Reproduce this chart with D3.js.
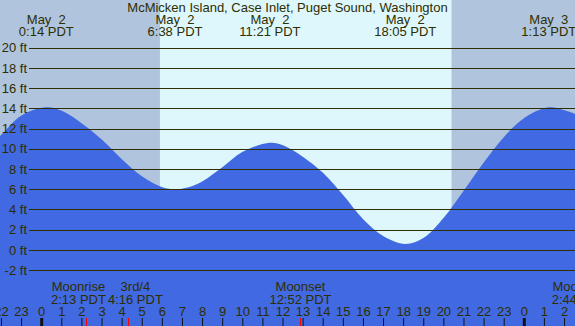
<!DOCTYPE html>
<html>
<head>
    <meta charset="utf-8">
    <title>McMicken Island tides</title>
    <script src="https://cdn.jsdelivr.net/npm/d3@7"></script>
    <style>
        body { margin: 0; }
        svg { display: block; }
        text { font-family: "Liberation Sans", Arial, sans-serif; font-size: 13px; fill: #2e2e00; white-space: pre; }
    </style>
</head>
<body>
<svg id="tideSvg"></svg>
<script>
    // hours from midnight May 2 (PDT), heights in feet
    let tideHours = [-3, -2, -1, 0.23, 1, 2, 3, 4, 5, 6, 6.63, 7.3, 8, 9, 10, 11.35, 12, 13, 14, 15, 16, 17, 18.08, 19, 20, 21, 22, 23, 24, 25.22, 26, 27];
    let tideFeet = [9.3, 11.4, 13.3, 14.1, 13.75, 12.5, 10.9, 8.95, 7.25, 6.2, 6.0, 6.2, 6.8, 8.2, 9.7, 10.6, 10.35, 9.2, 7.6, 5.4, 3.0, 1.35, 0.6, 1.2, 3.2, 5.9, 8.7, 11.2, 13.05, 14.1, 13.8, 13.1];

    // high / low tide events
    let eventHours = [0.23, 6.63, 11.35, 18.08, 25.22];
    let eventDates = ["May  2", "May  2", "May  2", "May  2", "May  3"];
    let eventTimes = ["0:14 PDT", "6:38 PDT", "11:21 PDT", "18:05 PDT", "1:13 PDT"];

    // moon events
    let moonHours = [2.22, 4.27, 12.87, 26.73];
    let moonNames = ["Moonrise", "3rd/4", "Moonset", "Moonrise"];
    let moonTimes = ["2:13 PDT", "4:16 PDT", "12:52 PDT", "2:44 PDT"];

    // sun: sunrise and sunset of May 2
    let sunrise = 5.88, sunset = 20.38;

    let yTicks = [-2, 0, 2, 4, 6, 8, 10, 12, 14, 16, 18, 20];
    let hourTicks = d3.range(-2, 27);
    let title = "McMicken Island, Case Inlet, Puget Sound, Washington";

    let SVGWIDTH = 575, SVGHEIGHT = 326;
    let nightColor = "#b0c4de", dayColor = "#ddf7fd", waterColor = "#4169e1", inkColor = "#2e2e00";

    let xScale = d3.scaleLinear().domain([0, 24]).range([41.7, 524.3]);
    let yScale = d3.scaleLinear().domain([-2, 20]).range([270.2, 47.6]);

    let svg = d3.select("#tideSvg").attr("width", SVGWIDTH).attr("height", SVGHEIGHT);

    // night / day background
    svg.append("rect").attr("x", 0).attr("y", 0)
        .attr("width", SVGWIDTH).attr("height", SVGHEIGHT).attr("fill", nightColor);
    svg.append("rect").attr("x", xScale(sunrise)).attr("y", 0)
        .attr("width", xScale(sunset) - xScale(sunrise)).attr("height", SVGHEIGHT)
        .attr("fill", dayColor);

    // water
    let tideData = tideHours.map((h, i) => ({ h: h, ft: tideFeet[i] }));
    let water = d3.area()
        .x(d => xScale(d.h))
        .y0(SVGHEIGHT)
        .y1(d => yScale(d.ft))
        .curve(d3.curveCatmullRom.alpha(0.5));
    svg.append("path").datum(tideData)
        .attr("d", water)
        .attr("fill", waterColor);

    // grid lines + left labels
    svg.append("g").selectAll("line")
        .data(yTicks).enter().append("line")
        .attr("x1", 29).attr("x2", SVGWIDTH)
        .attr("y1", d => Math.round(yScale(d)) + 0.5)
        .attr("y2", d => Math.round(yScale(d)) + 0.5)
        .attr("stroke", inkColor).attr("stroke-width", 1.2);
    svg.append("g").selectAll("text")
        .data(yTicks).enter().append("text")
        .attr("x", 27).attr("y", d => yScale(d))
        .attr("dy", "0.36em")
        .attr("text-anchor", "end")
        .text(d => d + " ft");

    // title
    svg.append("text").attr("x", SVGWIDTH / 2).attr("y", 12)
        .attr("text-anchor", "middle").text(title);

    // tide event labels
    let ev = svg.append("g").selectAll("text")
        .data(eventHours).enter().append("text")
        .attr("text-anchor", "middle")
        .attr("x", d => xScale(d));
    ev.append("tspan").attr("x", d => xScale(d)).attr("y", 23.5).text((d, i) => eventDates[i]);
    ev.append("tspan").attr("x", d => xScale(d)).attr("y", 35.5).text((d, i) => eventTimes[i]);

    // hour ticks along the bottom
    let axis = svg.append("g");
    axis.selectAll("line")
        .data(hourTicks).enter().append("line")
        .attr("x1", d => xScale(d)).attr("x2", d => xScale(d))
        .attr("y1", 318).attr("y2", SVGHEIGHT)
        .attr("stroke", "#111")
        .attr("stroke-width", d => (d % 24 == 0) ? 3 : 1);
    axis.selectAll("text")
        .data(hourTicks).enter().append("text")
        .attr("x", d => xScale(d)).attr("y", 316)
        .attr("text-anchor", "middle")
        .text(d => (d + 24) % 24);

    // moon marks (red ticks)
    svg.append("g").selectAll("line")
        .data(moonHours).enter().append("line")
        .attr("x1", d => Math.round(xScale(d)) + 0.5).attr("x2", d => Math.round(xScale(d)) + 0.5)
        .attr("y1", 318).attr("y2", SVGHEIGHT)
        .attr("stroke", "red").attr("stroke-width", 1);

    // moon labels, pushed apart when they overlap
    let moon = svg.append("g").selectAll("g")
        .data(moonHours).enter().append("g");
    moon.append("text").attr("y", 291).attr("text-anchor", "middle").text((d, i) => moonNames[i]);
    moon.append("text").attr("y", 304).attr("text-anchor", "middle").text((d, i) => moonTimes[i]);
    let centers = moonHours.map(d => xScale(d));
    let widths = [];
    moon.each(function () {
        let w = 0;
        d3.select(this).selectAll("text").each(function () { w = Math.max(w, this.getComputedTextLength()); });
        widths.push(w);
    });
    for (let i = 0; i < centers.length - 1; i++) {
        let need = (widths[i] + widths[i + 1]) / 2 + 2;
        let gap = centers[i + 1] - centers[i];
        if (gap < need) {
            centers[i] -= (need - gap) / 2;
            centers[i + 1] += (need - gap) / 2;
        }
    }
    moon.selectAll("text").attr("x", function () {
        let i = moonHours.indexOf(d3.select(this.parentNode).datum());
        return centers[i];
    });
</script>
</body>
</html>
